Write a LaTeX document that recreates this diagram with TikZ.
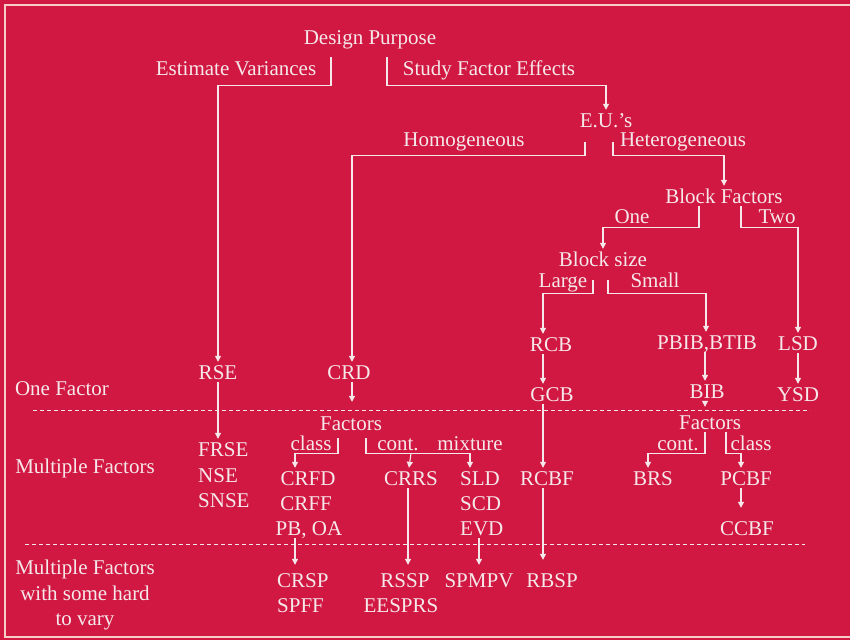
\documentclass[tikz,border=0pt]{standalone}
\usepackage{fontspec}
\setmainfont{Liberation Serif}
\usetikzlibrary{arrows.meta, positioning, calc}
\definecolor{bgred}{RGB}{208,24,66}
\definecolor{ink}{RGB}{246,232,234}
\definecolor{rim}{RGB}{247,205,200}

\begin{document}
\begin{tikzpicture}[
    x=1pt, y=-1pt,
    lbl/.style={text=ink, font=\fontsize{21}{25.5}\selectfont, inner xsep=1pt, inner ysep=3pt, text height=14pt, text depth=0pt},
    lblm/.style={text=ink, font=\fontsize{21}{25.5}\selectfont, inner sep=0pt, align=center},
    link/.style={draw=ink, line width=1.1pt},
    arrow/.style={link, -{Triangle[width=6pt,length=6pt]}},
    sep/.style={draw=ink, line width=1pt, dash pattern=on 4pt off 3pt}
]
\useasboundingbox (0,0) rectangle (850,640);
\fill[bgred] (0,0) rectangle (850,640);
\draw[rim, line width=2pt] (850,5) -- (5,5) -- (5,637) -- (850,637);

% purpose and units
\node[lbl] (dp) at (370,37) {Design Purpose};
\node[lbl] (estvar) at (236,68) {Estimate Variances};
\node[lbl] (study) at (489,68) {Study Factor Effects};
\node[lbl] (eu) at (606,120) {E.U.'s};
\node[lbl] (homog) at (464,139) {Homogeneous};
\node[lbl] (hetero) at (683,139) {Heterogeneous};
\node[lbl] (bf) at (724,196) {Block Factors};
\node[lbl] (one) at (632,216) {One};
\node[lbl] (two) at (777,216) {Two};
\node[lbl] (bsize) at (603,259) {Block size};
\node[lbl] (large) at (563,280) {Large};
\node[lbl] (small) at (655,280) {Small};

% one factor
\node[lbl] (onef) at (62,388) {One Factor};
\node[lbl] (rse) at (218,372) {RSE};
\node[lbl] (crd) at (349,372) {CRD};
\node[lbl] (rcb) at (551,344) {RCB};
\node[lbl] (pbib) at (707,342) {PBIB,BTIB};
\node[lbl] (lsd) at (798,343) {LSD};
\node[lbl] (gcb) at (552,394) {GCB};
\node[lbl] (bib) at (707,391) {BIB};
\node[lbl] (ysd) at (798,394) {YSD};

% multiple factors
\node[lbl] (multf) at (85,466) {Multiple Factors};
\node[lbl] (facl) at (351,423) {Factors};
\node[lbl] (facr) at (710,422) {Factors};
\node[lbl] (classl) at (311,443) {class};
\node[lbl] (contl) at (398,443) {cont.};
\node[lbl] (mixt) at (470,443) {mixture};
\node[lbl] (contr) at (678,443) {cont.};
\node[lbl] (classr) at (751,443) {class};
\node[lbl, anchor=west] (frse) at (197,449) {FRSE};
\node[lbl, anchor=west] (nse) at (197,475) {NSE};
\node[lbl, anchor=west] (snse) at (197,500) {SNSE};
\node[lbl] (crfd) at (308,478) {CRFD};
\node[lbl] (crff) at (306,503) {CRFF};
\node[lbl] (pboa) at (309,528) {PB, OA};
\node[lbl] (crrs) at (411,478) {CRRS};
\node[lbl, anchor=west] (sld) at (459,478) {SLD};
\node[lbl, anchor=west] (scd) at (459,503) {SCD};
\node[lbl, anchor=west] (evd) at (459,528) {EVD};
\node[lbl] (rcbf) at (547,478) {RCBF};
\node[lbl] (brs) at (653,478) {BRS};
\node[lbl] (pcbf) at (746,478) {PCBF};
\node[lbl] (ccbf) at (747,528) {CCBF};

% hard to vary
\node[lblm] (hardf) at (85,595) {Multiple Factors\\with some hard\\to vary};
\node[lbl, anchor=west] (crsp) at (276,580) {CRSP};
\node[lbl, anchor=west] (spff) at (276,605) {SPFF};
\node[lbl] (rssp) at (405,580) {RSSP};
\node[lbl] (eesprs) at (401,605) {EESPRS};
\node[lbl] (spmpv) at (479,580) {SPMPV};
\node[lbl] (rbsp) at (552,580) {RBSP};

% separators
\draw[sep] (33,410) -- (810,410);
\draw[sep] (25,544) -- (805,544);

% branches
\draw[arrow] ([shift={(-39,10)}]dp.south) -- ++(0,28) -| (rse.north);
\draw[arrow] ([shift={(17,10)}]dp.south) -- ++(0,28) -| (eu.north);
\draw[arrow] ([shift={(-21,12)}]eu.south) -- ++(0,13) -| ([xshift=3pt]crd.north);
\draw[arrow] ([shift={(7,12)}]eu.south) -- ++(0,13) -| (bf.north);
\draw[arrow] ([xshift=-25pt]bf.south) -- ++(0,21) -| (bsize.north);
\draw[arrow] ([xshift=17pt]bf.south) -- ++(0,21) -| (lsd.north);
\draw[arrow] ([shift={(-10,11)}]bsize.south) -- ++(0,13) -| ([xshift=-8pt]rcb.north);
\draw[arrow] ([shift={(5,11)}]bsize.south) -- ++(0,13) -| ([xshift=-1pt]pbib.north);

% downward arrows
\draw[arrow] (rse.south) -- (rse.south |- frse.north);
\draw[arrow] ([xshift=3pt]crd.south) -- ([xshift=3pt, yshift=11pt]crd.south |- facl.north);
\draw[arrow] ([xshift=-8pt]rcb.south) -- ([xshift=-8pt]rcb.south |- gcb.north);
\draw[arrow] ([xshift=-9pt]gcb.south) -- ([xshift=-9pt]gcb.south |- rcbf.north);
\draw[arrow] ([xshift=-4pt]rcbf.south) -- ([xshift=-4pt, yshift=10pt]rcbf.south |- rbsp.north);
\draw[arrow] ([xshift=-2pt]pbib.south) -- ([xshift=-2pt]pbib.south |- bib.north);
\draw[arrow] ([xshift=-2pt]bib.south) -- ([xshift=-2pt, yshift=5pt]bib.south |- facr.north);
\draw[arrow] (lsd.south) -- (lsd.south |- ysd.north);
\draw[arrow] ([xshift=-5pt]pcbf.south) -- ([xshift=-5pt, yshift=10pt]pcbf.south |- ccbf.north);
\draw[arrow] ([xshift=-14pt]pboa.south) -- ([xshift=-14pt, yshift=5pt]pboa.south |- crsp.north);
\draw[arrow] ([xshift=-3pt]crrs.south) -- ([xshift=-3pt, yshift=5pt]crrs.south |- rssp.north);
\draw[arrow] (evd.south -| spmpv.north) -- ([yshift=5pt]spmpv.north);

% factor brackets
\draw[arrow] ([shift={(-13,5)}]facl.south) -- ++(0,15) -| ([xshift=-13pt]crfd.north);
\draw[arrow] ([shift={(15,5)}]facl.south) -- ++(0,15) coordinate (contfork) -| (mixt.south |- sld.north);
\draw[arrow] (contfork -| crrs.north) -- ([xshift=-2pt]crrs.north);
\draw[arrow] ([xshift=-5pt]facr.south) -- ++(0,21) -| ([xshift=-5pt]brs.north);
\draw[arrow] ([xshift=16pt]facr.south) -- ++(0,21) -| ([xshift=-5pt]pcbf.north);
\end{tikzpicture}
\end{document}
